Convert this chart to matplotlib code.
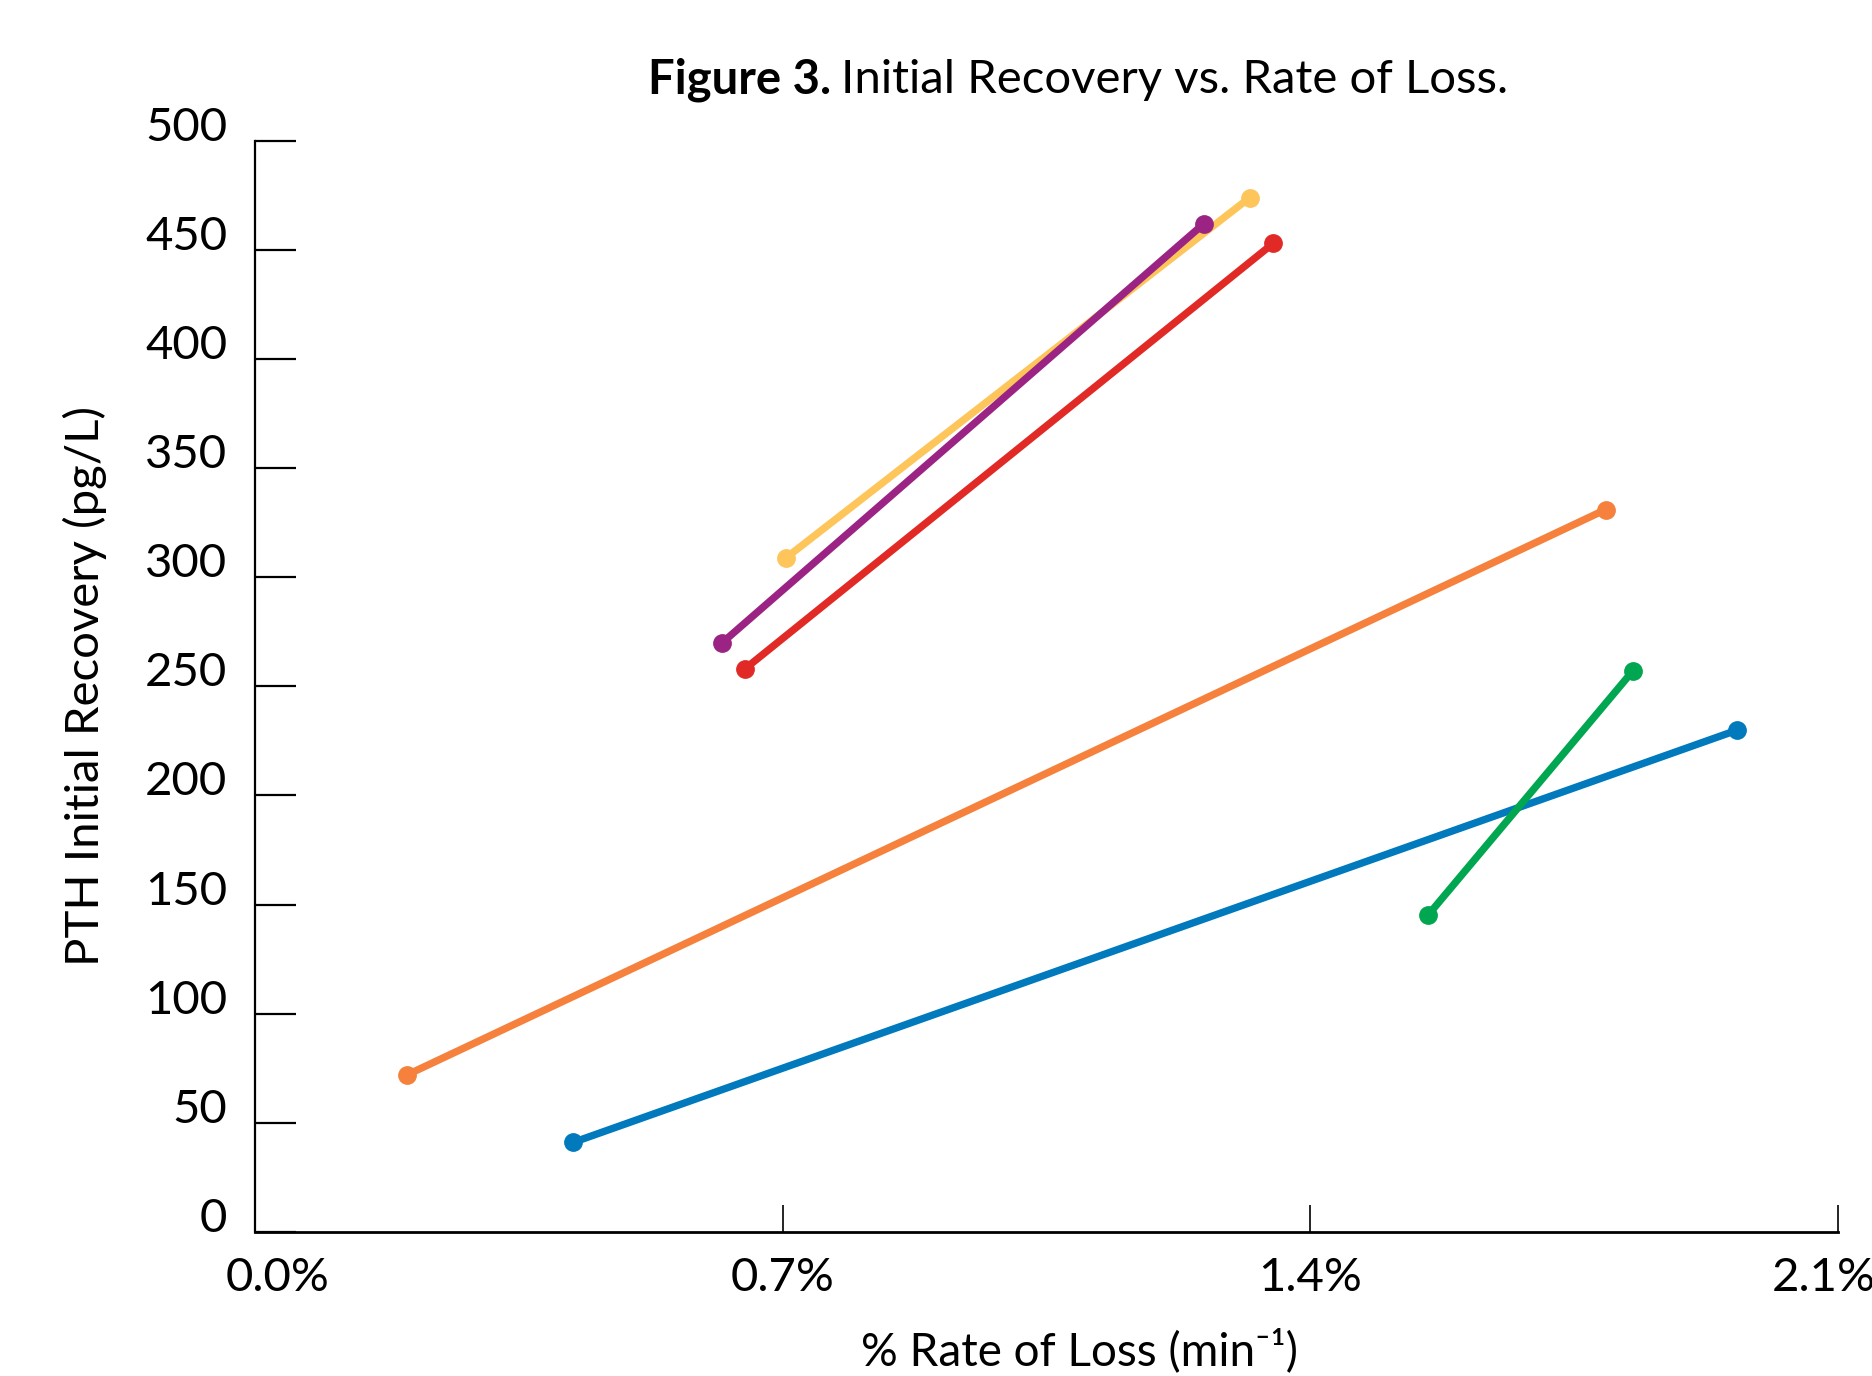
import matplotlib
matplotlib.use("Agg")
import matplotlib.pyplot as plt
import matplotlib.transforms as mtransforms

plt.rcParams['font.family'] = ['Lato', 'DejaVu Sans']

# 数据
series_names = ["yellow", "purple", "red", "orange", "blue", "green"]
series_colors = ["#FDC55A", "#9B2383", "#E12A26", "#F5813D", "#0079BD", "#00A650"]
x_start = [0.705, 0.620, 0.650, 0.202, 0.422, 1.556]
y_start = [309, 270, 258, 72, 41, 145]
x_end = [1.320, 1.259, 1.351, 1.792, 1.967, 1.828]
y_end = [474, 462, 453, 331, 230, 257]

x_ticks = [0.0, 0.7, 1.4, 2.1]
x_tick_labels = ["0.0%", "0.7%", "1.4%", "2.1%"]
y_ticks = [0, 50, 100, 150, 200, 250, 300, 350, 400, 450, 500]

fig = plt.figure(figsize=(18.72, 13.76), dpi=100)
ax = fig.add_axes([0.1362, 0.1047, 0.8455, 0.793])

for name, c, xa, ya, xb, yb in zip(series_names, series_colors, x_start, y_start, x_end, y_end):
    ax.plot([xa, xb], [ya, yb], color=c, lw=5.3, marker="o", ms=12.5,
            solid_capstyle="butt", label=name)

ax.set_xlim(0, 2.1)
ax.set_ylim(0, 500)
ax.spines["top"].set_visible(False)
ax.spines["right"].set_visible(False)
ax.spines["left"].set_linewidth(1.6)
ax.spines["bottom"].set_linewidth(2.0)

ax.set_xticks(x_ticks)
ax.set_xticklabels(x_tick_labels)
ax.set_yticks(y_ticks)
ax.tick_params(axis="y", direction="in", length=29.5, width=1.6, pad=20, labelsize=34)
ax.tick_params(axis="x", direction="in", length=19.5, width=1.2, pad=18, labelsize=34)

# y 刻度标签在刻度线上方
for lbl in ax.get_yticklabels():
    lbl.set_verticalalignment("baseline")

# 首尾 x 刻度标签向内偏移
xl = ax.get_xticklabels()
xl[0].set_transform(xl[0].get_transform() + mtransforms.ScaledTranslation(0.23, 0, fig.dpi_scale_trans))
xl[-1].set_transform(xl[-1].get_transform() + mtransforms.ScaledTranslation(-0.14, 0, fig.dpi_scale_trans))

ax.set_ylabel("PTH Initial Recovery (pg/L)", fontsize=34)
ax.yaxis.set_label_coords(-0.0935, 0.5)
ax.set_xlabel("% Rate of Loss (min\u207b\u00b9)", fontsize=33)
ax.xaxis.set_label_coords(0.521, -0.088)

# 标题：粗体 + 常规
t1 = fig.text(0.346, 0.942, "Figure 3.", fontsize=34, fontweight="bold", va="center", ha="left")
fig.canvas.draw()
bb = t1.get_window_extent()
x2 = (bb.x1 + 10) / fig.bbox.width
fig.text(x2, 0.942, "Initial Recovery vs. Rate of Loss.", fontsize=34, va="center", ha="left")

fig.savefig("out.png", dpi=100, facecolor="white")
